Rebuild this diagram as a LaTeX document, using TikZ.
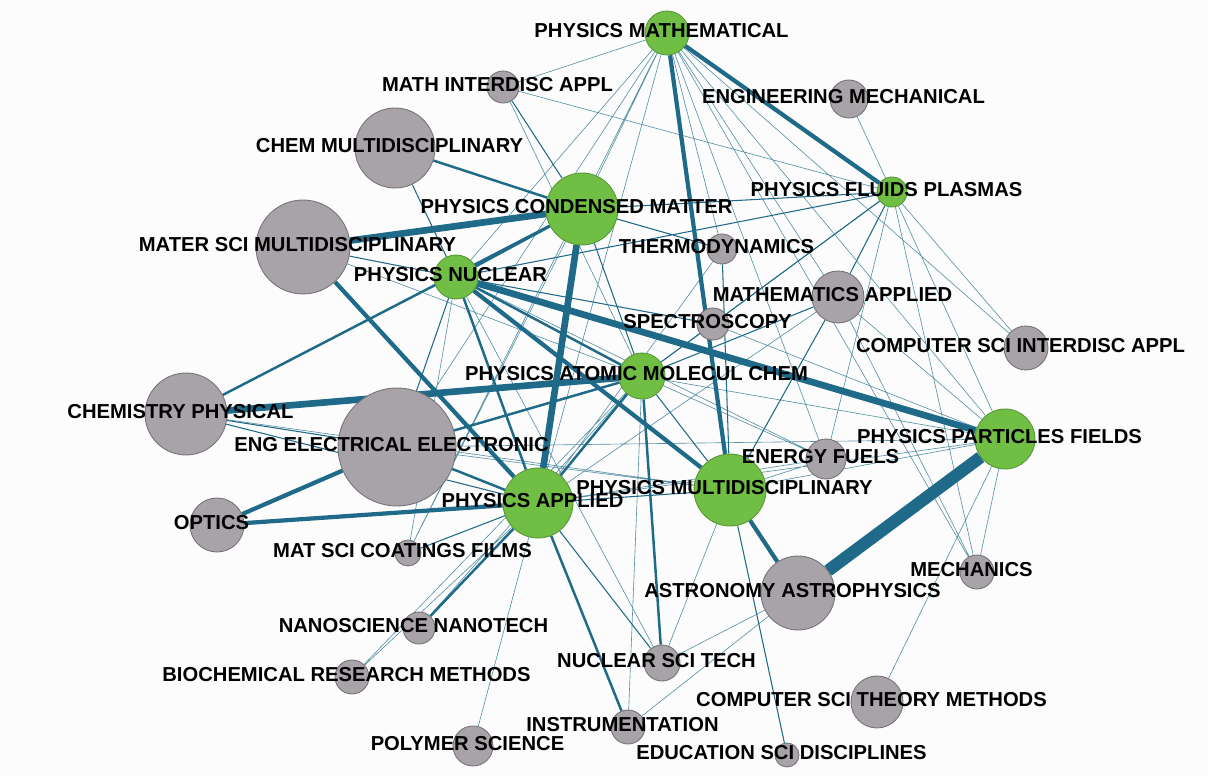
\documentclass[tikz,border=0pt]{standalone}
\usepackage{fontspec}
\setmainfont{Liberation Sans}
\usetikzlibrary{positioning}
\pgfdeclarelayer{background}
\pgfdeclarelayer{foreground}
\pgfsetlayers{background,main,foreground}

\definecolor{nodegreen}{RGB}{112,190,68}
\definecolor{greenrim}{RGB}{88,152,54}
\definecolor{nodegray}{RGB}{168,163,168}
\definecolor{grayrim}{RGB}{118,114,118}
\definecolor{edgeblue}{RGB}{30,106,136}
\definecolor{paper}{RGB}{252,252,252}

\tikzset{
	rad/.style={minimum size=0.04cm*#1},
	greennode/.style={circle, inner sep=0pt, fill=nodegreen, draw=greenrim, line width=0.5pt},
	graynode/.style={circle, inner sep=0pt, fill=nodegray, draw=grayrim, line width=0.5pt},
	lab/.style={font=\fontsize{11.5}{12}\selectfont\bfseries, inner sep=0pt, xshift=-0.11cm, yshift=0.04cm},
	hairlink/.style={draw=edgeblue!75, line width=0.35pt},
	thinlink/.style={draw=edgeblue, line width=0.6pt},
	midlink/.style={draw=edgeblue, line width=1.4pt},
	widelink/.style={draw=edgeblue, line width=2.4pt},
	thicklink/.style={draw=edgeblue, line width=3.8pt},
	heavylink/.style={draw=edgeblue, line width=7pt}
}

\begin{document}
\begin{tikzpicture}[x=0.02cm, y=-0.02cm]
		\useasboundingbox (0,0) rectangle (1208,776);
		
		% green nodes
		\node[greennode, rad=22] (pmath) at (667,33) {};
		\node[greennode, rad=36] (pcm) at (582,209) {};
		\node[greennode, rad=15] (pfp) at (892,192) {};
		\node[greennode, rad=22] (pnuc) at (456,277) {};
		\node[greennode, rad=23] (pamc) at (642,376) {};
		\node[greennode, rad=30] (ppf) at (1005,439) {};
		\node[greennode, rad=36] (pmulti) at (730,490) {};
		\node[greennode, rad=35] (papp) at (538,503) {};
		
		% gray nodes
		\node[graynode, rad=16] (mia) at (503,87) {};
		\node[graynode, rad=19] (engmech) at (849,99) {};
		\node[graynode, rad=40] (chemmul) at (395,148) {};
		\node[graynode, rad=47] (matsci) at (303,247) {};
		\node[graynode, rad=15] (thermo) at (722,249) {};
		\node[graynode, rad=26] (mathapp) at (838,297) {};
		\node[graynode, rad=16] (spec) at (713,324) {};
		\node[graynode, rad=22] (csia) at (1026,348) {};
		\node[graynode, rad=41] (chemphys) at (186,414) {};
		\node[graynode, rad=59] (eee) at (397,447) {};
		\node[graynode, rad=20] (energy) at (826,459) {};
		\node[graynode, rad=27] (optics) at (217,525) {};
		\node[graynode, rad=13] (coat) at (408,553) {};
		\node[graynode, rad=17] (mech) at (977,572) {};
		\node[graynode, rad=37] (astro) at (798,593) {};
		\node[graynode, rad=16] (nano) at (419,628) {};
		\node[graynode, rad=18] (nst) at (662,663) {};
		\node[graynode, rad=17] (biochem) at (352,677) {};
		\node[graynode, rad=26] (cstm) at (877,702) {};
		\node[graynode, rad=17] (instr) at (628,727) {};
		\node[graynode, rad=20] (polymer) at (473,746) {};
		\node[graynode, rad=12] (edu) at (787,755) {};
		
		% labels
		\begin{pgfonlayer}{foreground}
		\node[lab] (pmath-l) at (pmath) {PHYSICS MATHEMATICAL};
		\node[lab] (pcm-l) at (pcm) {PHYSICS CONDENSED MATTER};
		\node[lab] (pfp-l) at (pfp) {PHYSICS FLUIDS PLASMAS};
		\node[lab] (pnuc-l) at (pnuc) {PHYSICS NUCLEAR};
		\node[lab] (pamc-l) at (pamc) {PHYSICS ATOMIC MOLECUL CHEM};
		\node[lab] (ppf-l) at (ppf) {PHYSICS PARTICLES FIELDS};
		\node[lab] (pmulti-l) at (pmulti) {PHYSICS MULTIDISCIPLINARY};
		\node[lab] (papp-l) at (papp) {PHYSICS APPLIED};
		\node[lab] (mia-l) at (mia) {MATH INTERDISC APPL};
		\node[lab] (engmech-l) at (engmech) {ENGINEERING MECHANICAL};
		\node[lab] (chemmul-l) at (chemmul) {CHEM MULTIDISCIPLINARY};
		\node[lab] (matsci-l) at (matsci) {MATER SCI MULTIDISCIPLINARY};
		\node[lab] (thermo-l) at (thermo) {THERMODYNAMICS};
		\node[lab] (mathapp-l) at (mathapp) {MATHEMATICS APPLIED};
		\node[lab] (spec-l) at (spec) {SPECTROSCOPY};
		\node[lab] (csia-l) at (csia) {COMPUTER SCI INTERDISC APPL};
		\node[lab] (chemphys-l) at (chemphys) {CHEMISTRY PHYSICAL};
		\node[lab] (eee-l) at (eee) {ENG ELECTRICAL ELECTRONIC};
		\node[lab] (energy-l) at (energy) {ENERGY FUELS};
		\node[lab] (optics-l) at (optics) {OPTICS};
		\node[lab] (coat-l) at (coat) {MAT SCI COATINGS FILMS};
		\node[lab] (mech-l) at (mech) {MECHANICS};
		\node[lab] (astro-l) at (astro) {ASTRONOMY ASTROPHYSICS};
		\node[lab] (nano-l) at (nano) {NANOSCIENCE NANOTECH};
		\node[lab] (nst-l) at (nst) {NUCLEAR SCI TECH};
		\node[lab] (biochem-l) at (biochem) {BIOCHEMICAL RESEARCH METHODS};
		\node[lab] (cstm-l) at (cstm) {COMPUTER SCI THEORY METHODS};
		\node[lab] (instr-l) at (instr) {INSTRUMENTATION};
		\node[lab] (polymer-l) at (polymer) {POLYMER SCIENCE};
		\node[lab] (edu-l) at (edu) {EDUCATION SCI DISCIPLINES};
		\end{pgfonlayer}
		
		% links
		\begin{pgfonlayer}{background}
		\fill[paper] (0,0) rectangle (1208,776);
		
		% hairlines
		\draw[hairlink] (pmath) -- (mia) (pmath) -- (pnuc) (pmath) -- (pcm) (pmath) -- (coat)
			(pmath) -- (eee) (pmath) -- (papp) (pmath) -- (csia) (pmath) -- (ppf)
			(pmath) -- (mathapp) (pmath) -- (mech) (pmath) -- (energy) (pmath) -- (thermo)
			(mia) -- (pfp) (mia) -- (pamc) (engmech) -- (pfp) (pfp) -- (csia)
			(pfp) -- (ppf) (pfp) -- (mech) (pfp) -- (energy) (pfp) -- (spec)
			(mathapp) -- (ppf) (mathapp) -- (mech) (mathapp) -- (papp) (spec) -- (ppf)
			(pamc) -- (ppf) (pamc) -- (energy) (pamc) -- (instr) (pamc) -- (biochem)
			(pnuc) -- (coat) (pnuc) -- (nst) (pnuc) -- (energy) (matsci) -- (pamc)
			(eee) -- (ppf) (eee) -- (pmulti) (papp) -- (ppf) (papp) -- (energy)
			(papp) -- (polymer) (papp) -- (biochem) (pmulti) -- (ppf) (pmulti) -- (energy)
			(pmulti) -- (nst) (astro) -- (instr) (astro) -- (nst) (astro) -- (ppf)
			(cstm) -- (ppf) (mech) -- (ppf) (nano) -- (pamc) (coat) -- (pcm)
			(thermo) -- (papp) (chemphys) -- (pmulti);
		
		% thin links
		\draw[thinlink] (mia) -- (pcm) (chemmul) -- (pnuc) (pcm) -- (pfp) (pcm) -- (thermo)
			(pfp) -- (pnuc) (pfp) -- (pamc) (pfp) -- (mathapp) (spec) -- (pamc)
			(spec) -- (pnuc) (mathapp) -- (pmulti) (mathapp) -- (pamc) (pamc) -- (pmulti)
			(pamc) -- (pcm) (pnuc) -- (eee) (pnuc) -- (matsci) (chemphys) -- (eee)
			(chemphys) -- (papp) (papp) -- (pmulti) (papp) -- (nst) (papp) -- (coat)
			(papp) -- (pcm) (thermo) -- (pmulti) (pmulti) -- (edu);
		
		% middle links
		\draw[midlink] (chemmul) -- (pcm) (eee) -- (pamc) (chemphys) -- (pcm)
			(papp) -- (nano) (pamc) -- (nst) (papp) -- (instr) (pcm) -- (pnuc)
			(pnuc) -- (papp) (eee) -- (papp) (pnuc) -- (pamc) (pamc) -- (papp);
		
		% wide links
		\draw[widelink] (pmath) -- (pfp) (pmath) -- (pmulti) (pnuc) -- (pmulti)
			(pmulti) -- (astro) (optics) -- (papp) (optics) -- (eee) (matsci) -- (papp);
		
		% thick links
		\draw[thicklink] (pnuc) -- (ppf) (matsci) -- (pcm) (chemphys) -- (pamc) (pcm) -- (papp);
		\draw[heavylink] (ppf) -- (astro);
		\end{pgfonlayer}
\end{tikzpicture}
\end{document}
